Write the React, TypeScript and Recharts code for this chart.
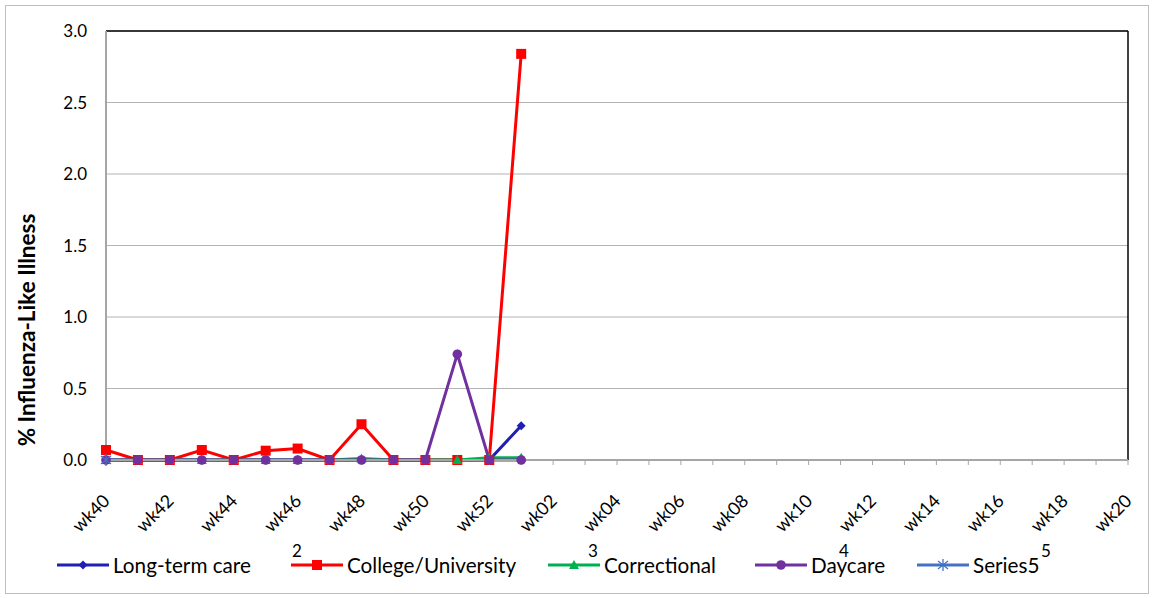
import React from "react";
import { LineChart, Line, XAxis, YAxis, CartesianGrid, ReferenceLine } from "recharts";

const weeks = [
  "wk40", "wk41", "wk42", "wk43", "wk44", "wk45", "wk46", "wk47", "wk48", "wk49",
  "wk50", "wk51", "wk52", "wk01", "wk02", "wk03", "wk04", "wk05", "wk06", "wk07",
  "wk08", "wk09", "wk10", "wk11", "wk12", "wk13", "wk14", "wk15", "wk16", "wk17",
  "wk18", "wk19", "wk20",
];

// values reported so far (wk40 .. wk01); later weeks have no data yet
const longTermCare = [0, 0, 0, 0, 0, 0, 0, 0, 0, 0, 0, 0, 0, 0.24];
const collegeUniversity = [0.07, 0, 0, 0.07, 0, 0.065, 0.08, 0, 0.25, 0, 0, 0, 0, 2.84];
const correctional = [0, 0, 0, 0, 0, 0, 0, 0, 0.01, 0, 0, 0, 0.015, 0.015];
const daycare = [0, 0, 0, 0, 0, 0, 0, 0, 0, 0, 0, 0.74, 0, 0];
const series5 = [0];

const yTicks = [0, 0.5, 1, 1.5, 2, 2.5, 3];

const FONT = "Lato, 'Open Sans', sans-serif";

const series = [
  { key: "ltc", name: "Long-term care", color: "#1F1FB4", shape: "diamond", values: longTermCare },
  { key: "college", name: "College/University", color: "#FF0000", shape: "square", values: collegeUniversity },
  { key: "corr", name: "Correctional", color: "#00B050", shape: "triangle", values: correctional },
  { key: "day", name: "Daycare", color: "#7030A0", shape: "circle", values: daycare },
  { key: "s5", name: "Series5", color: "#4472C4", shape: "star", values: series5 },
];

const data = weeks.map((week, i) => {
  const row: Record<string, any> = { week };
  series.forEach((s) => {
    row[s.key] = s.values[i] ?? null;
  });
  return row;
});

function Marker({ shape, color, cx, cy }: { shape: string; color: string; cx: number; cy: number }) {
  switch (shape) {
    case "diamond":
      return <path d={`M${cx},${cy - 4.5}L${cx + 4.5},${cy}L${cx},${cy + 4.5}L${cx - 4.5},${cy}Z`} fill={color} />;
    case "square":
      return <rect x={cx - 5} y={cy - 5} width={10} height={10} fill={color} />;
    case "triangle":
      return <path d={`M${cx},${cy - 5}L${cx + 5},${cy + 4}L${cx - 5},${cy + 4}Z`} fill={color} />;
    case "circle":
      return <circle cx={cx} cy={cy} r={4.8} fill={color} />;
    default:
      return (
        <g stroke={color} strokeWidth={1.3}>
          <line x1={cx} y1={cy - 6} x2={cx} y2={cy + 6} />
          <line x1={cx - 5} y1={cy - 4} x2={cx + 5} y2={cy + 4} />
          <line x1={cx - 5} y1={cy + 4} x2={cx + 5} y2={cy - 4} />
        </g>
      );
  }
}

const dotFor = (shape: string, color: string) => (props: any) => {
  const { cx, cy, value, index } = props;
  if (value == null || typeof cy !== "number" || isNaN(cy)) return <g key={`e${index}`} />;
  return (
    <g key={`d${index}`}>
      <Marker shape={shape} color={color} cx={cx} cy={cy} />
    </g>
  );
};

function WeekTick(props: any) {
  const { x, y, payload } = props;
  if (payload.index % 2 !== 0) return <g />;
  return (
    <g transform={`translate(${x + 5},${y + 35})`}>
      <text textAnchor="end" transform="rotate(-45)" fontSize={18} fill="#000" fontFamily={FONT}>
        {payload.value}
      </text>
    </g>
  );
}

// legend layout (pixel positions of the Excel legend)
const legendLeft = [57, 291, 548, 755, 917];
const footnotes = [
  { text: "2", left: 292 },
  { text: "3", left: 588 },
  { text: "4", left: 839 },
  { text: "5", left: 1041 },
];

function ChartLegend() {
  return (
    <>
      {series.map((s, i) => (
        <div
          key={s.key}
          style={{ position: "absolute", left: legendLeft[i], top: 552, height: 26, display: "flex", alignItems: "center" }}
        >
          <svg width={52} height={26}>
            <line x1={0} y1={13} x2={52} y2={13} stroke={s.color} strokeWidth={3} />
            <Marker shape={s.shape} color={s.color} cx={26} cy={13} />
          </svg>
          <span style={{ marginLeft: 4, fontSize: 20.7, fontFamily: FONT, color: "#000", whiteSpace: "nowrap" }}>
            {s.name}
          </span>
        </div>
      ))}
      {footnotes.map((f) => (
        <span
          key={f.text}
          style={{ position: "absolute", left: f.left, top: 540, fontSize: 17, fontFamily: FONT, color: "#000" }}
        >
          {f.text}
        </span>
      ))}
    </>
  );
}

export default function App() {
  return (
    <div style={{ position: "absolute", left: 0, top: 0, width: 1154, height: 598, background: "#fff" }}>
      <div
        style={{
          position: "absolute",
          left: 5,
          top: 5,
          width: 1142,
          height: 587,
          border: "1px solid #BFBFBF",
        }}
      />
      <LineChart
        width={1154}
        height={598}
        data={data}
        margin={{ top: 31, right: 26, bottom: 0, left: 46 }}
        style={{ position: "absolute", left: 0, top: 0 }}
      >
        <CartesianGrid vertical={false} stroke="#B3B3B3" strokeWidth={1} />
        <XAxis
          dataKey="week"
          interval={0}
          height={138}
          tick={<WeekTick />}
          tickSize={5}
          tickLine={{ stroke: "#A6A6A6" }}
          axisLine={{ stroke: "#A6A6A6", strokeWidth: 2 }}
        />
        <YAxis
          domain={[0, 3]}
          ticks={yTicks}
          width={60}
          tickFormatter={(v: number) => v.toFixed(1)}
          tickLine={false}
          tickSize={6}
          tickMargin={13}
          axisLine={{ stroke: "#A6A6A6", strokeWidth: 2 }}
          tick={{ fill: "#000", fontSize: 17, fontFamily: FONT }}
        />
        <ReferenceLine y={3} stroke="#000" strokeWidth={1.5} />
        <ReferenceLine x="wk20" stroke="#000" strokeWidth={1.5} />
        {series.map((s) => (
          <Line
            key={s.key}
            dataKey={s.key}
            name={s.name}
            stroke={s.color}
            strokeWidth={3}
            dot={dotFor(s.shape, s.color)}
            activeDot={false}
            isAnimationActive={false}
          />
        ))}
      </LineChart>
      <div
        style={{
          position: "absolute",
          left: 26,
          top: 330,
          transform: "translate(-50%, -50%) rotate(-90deg)",
          fontFamily: FONT,
          fontWeight: 700,
          fontSize: 22.5,
          whiteSpace: "nowrap",
          color: "#000",
        }}
      >
        % Influenza-Like Illness
      </div>
      <ChartLegend />
    </div>
  );
}
